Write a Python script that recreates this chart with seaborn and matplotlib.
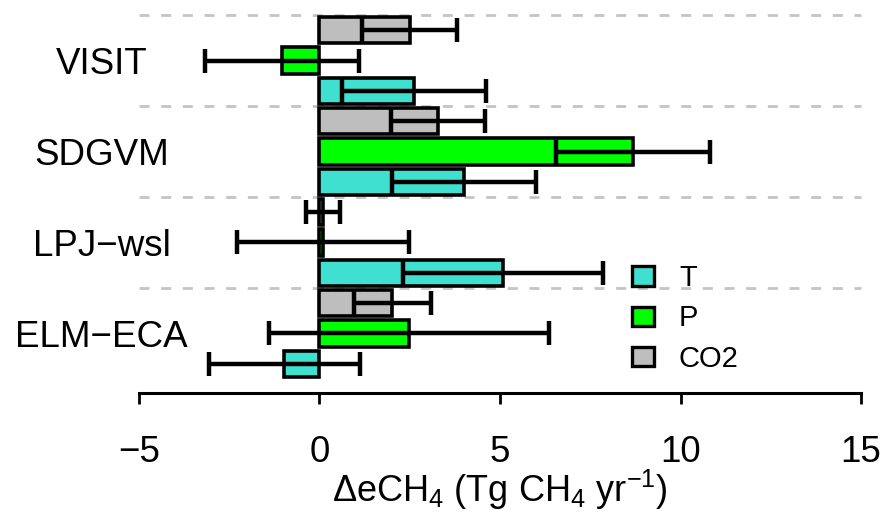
import numpy as np
import pandas as pd
import matplotlib
matplotlib.use("Agg")
import matplotlib.pyplot as plt
import seaborn as sns
from matplotlib.patches import Patch

sns.set_theme(style="white")
plt.rcParams["font.family"] = ["Liberation Sans", "DejaVu Sans"]
plt.rcParams["text.color"] = "black"
plt.rcParams["xtick.color"] = "black"
plt.rcParams["ytick.color"] = "black"
plt.rcParams["axes.labelcolor"] = "black"
plt.rcParams["mathtext.default"] = "regular"
plt.rcParams["mathtext.fontset"] = "custom"
plt.rcParams["mathtext.rm"] = "Liberation Sans"

# ------------------------------------------------------------------
# Data (mean response and spread per model and driver)
# ------------------------------------------------------------------
models = ["VISIT", "SDGVM", "LPJ\u2212wsl", "ELM\u2212ECA"]
drivers = ["CO2", "P", "T"]          # top to bottom inside each group
legend_order = ["T", "P", "CO2"]

t_mean = [2.62, 4.0, 5.07, -0.97]
t_sd = [2.0, 2.0, 2.77, 2.1]
p_mean = [-1.03, 8.68, 0.1, 2.48]
p_sd = [2.13, 2.13, 2.38, 3.88]
co2_mean = [2.5, 3.28, 0.1, 2.02]
co2_sd = [1.31, 1.3, 0.48, 1.07]

colors = {"T": "#40E0D0", "P": "#00FF00", "CO2": "#BEBEBE"}

df = pd.DataFrame({
    "model": models * 3,
    "driver": ["T"] * 4 + ["P"] * 4 + ["CO2"] * 4,
    "mean": t_mean + p_mean + co2_mean,
    "sd": t_sd + p_sd + co2_sd,
})

# ------------------------------------------------------------------
# Plot
# ------------------------------------------------------------------
fig = plt.figure(figsize=(8.91, 5.16), dpi=100)
ax = fig.add_axes([110 / 891, 123 / 516, 780 / 891, 393 / 516])

sns.barplot(data=df, y="model", x="mean", hue="driver", order=models,
            hue_order=drivers, palette=colors, saturation=1, orient="h",
            width=1.0, gap=0.14, errorbar=None, edgecolor="black",
            linewidth=2.6, legend=False, ax=ax)

# error bars centred on each bar
for drv, cont in zip(drivers, ax.containers):
    sub = df[df["driver"] == drv].set_index("model").loc[models]
    ys = [b.get_y() + b.get_height() / 2 for b in cont]
    ax.errorbar(sub["mean"], ys, xerr=sub["sd"], fmt="none", ecolor="black",
                elinewidth=3.2, capsize=8.3, capthick=3.2, zorder=5)

# dashed separators between models
ax.hlines([-0.5, 0.5, 1.5, 2.5], -5, 15, colors="#C4C4C4",
          linestyles=(0, (3.6, 4.2)), linewidth=2.0, zorder=0)

ax.set_xlim(-5.8, 15.8)
ax.set_ylim(3.654, -0.665)
ax.set_xticks([-5, 0, 5, 10, 15])
for s in ["top", "right", "left"]:
    ax.spines[s].set_visible(False)
ax.spines["bottom"].set_bounds(-5, 15)
ax.spines["bottom"].set_linewidth(2.2)
ax.spines["bottom"].set_color("black")
ax.tick_params(axis="x", length=8, width=2, color="black", labelsize=26.5,
               pad=22, direction="out", bottom=True)
ax.tick_params(axis="y", length=0, labelsize=26.5, pad=6)
for lab in ax.get_yticklabels():
    lab.set_ha("center")
ax.set_ylabel("")
ax.set_xlabel(r"$\Delta$eCH$_4$ (Tg CH$_4$ yr$^{-1}$)", fontsize=26, labelpad=-1)

handles = [Patch(facecolor=colors[d], edgecolor="black", linewidth=2.4) for d in legend_order]
fig.legend(handles, legend_order, loc="upper left",
           bbox_to_anchor=(606 / 891, 1 - 238 / 516), frameon=False,
           fontsize=21, handlelength=0.75, handleheight=0.65,
           labelspacing=0.42, handletextpad=0.85)

fig.savefig("out.png", dpi=100)
